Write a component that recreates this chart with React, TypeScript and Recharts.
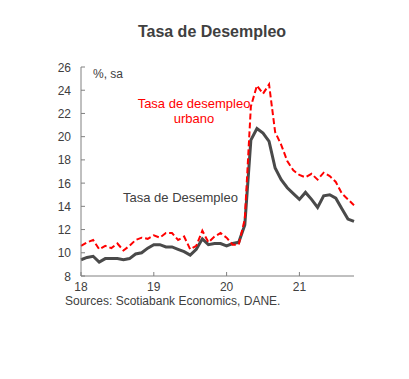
import { LineChart, Line, XAxis, YAxis } from "recharts";

// monthly, Jan-2018 .. Oct-2021
const startYear = 18;

const desempleo = [
  9.4, 9.6, 9.7, 9.2, 9.5, 9.5, 9.5, 9.4, 9.5, 9.9, 10.0, 10.4,
  10.7, 10.7, 10.5, 10.5, 10.3, 10.1, 9.8, 10.3, 11.2, 10.7, 10.8, 10.8,
  10.6, 10.8, 10.9, 12.4, 19.7, 20.7, 20.3, 19.6, 17.3, 16.3, 15.6, 15.1,
  14.6, 15.2, 14.6, 13.9, 14.9, 15.0, 14.7, 13.8, 12.9, 12.7,
];

const desempleoUrbano = [
  10.6, 10.9, 11.1, 10.3, 10.6, 10.4, 10.8, 10.2, 10.6, 11.1, 11.3, 11.2,
  11.5, 11.3, 11.7, 11.7, 11.1, 11.4, 10.3, 10.6, 11.9, 10.9, 11.4, 11.7,
  11.3, 10.7, 10.7, 12.9, 22.6, 24.4, 23.7, 24.5, 20.4, 19.3, 17.9, 17.1,
  16.7, 16.5, 16.8, 16.3, 16.9, 16.6, 16.1, 15.1, 14.6, 14.1,
];

const xTicks = [18, 19, 20, 21];
const yTicks = [8, 10, 12, 14, 16, 18, 20, 22, 24, 26];

const data = desempleo.map((v, i) => ({
  t: startYear + i / 12,
  total: v,
  urbano: desempleoUrbano[i],
}));

const AXIS = "#808080";
const TXT = "#404040";
const FONT = "'Liberation Sans', Arial, sans-serif";

function YTick(props: any) {
  const { x, y, payload } = props;
  return (
    <g>
      <line x1={x} x2={x + 4} y1={y} y2={y} stroke={AXIS} />
      <text x={x - 10} y={y} dy={4.5} textAnchor="end" fill={TXT} fontSize={12} fontFamily={FONT}>
        {payload.value}
      </text>
    </g>
  );
}

function XTick(props: any) {
  const { x, y, payload } = props;
  return (
    <g>
      <line x1={x} x2={x} y1={y} y2={y - 4} stroke={AXIS} />
      <text x={x} y={y} dy={15} textAnchor="middle" fill={TXT} fontSize={12} fontFamily={FONT}>
        {payload.value}
      </text>
    </g>
  );
}

const label = (extra: React.CSSProperties): React.CSSProperties => ({
  position: "absolute",
  fontFamily: FONT,
  whiteSpace: "nowrap",
  lineHeight: 1,
  ...extra,
});

export default function App() {
  return (
    <div style={{ position: "relative", width: 409, height: 379, background: "#fff" }}>
      <style>{`body{margin:0}`}</style>
      <LineChart
        width={409}
        height={379}
        data={data}
        margin={{ top: 67, right: 55, bottom: 83, left: 51 }}
      >
        <XAxis
          dataKey="t"
          type="number"
          domain={[18, 21.75]}
          ticks={xTicks}
          height={20}
          tickSize={0}
          tickMargin={0}
          tickLine={false}
          tick={<XTick />}
          axisLine={{ stroke: AXIS }}
        />
        <YAxis
          domain={[8, 26]}
          ticks={yTicks}
          width={30}
          tickSize={0}
          tickMargin={0}
          tickLine={false}
          tick={<YTick />}
          axisLine={{ stroke: AXIS }}
        />
        <Line
          type="linear"
          dataKey="total"
          stroke="#4a4a4a"
          strokeWidth={3}
          dot={false}
          isAnimationActive={false}
        />
        <Line
          type="linear"
          dataKey="urbano"
          stroke="#ff0000"
          strokeWidth={2}
          strokeDasharray="6 3"
          dot={false}
          isAnimationActive={false}
        />
      </LineChart>
      <div style={label({ left: 0, width: 424, top: 24, textAlign: "center", fontSize: 16, fontWeight: "bold", color: "#404040" })}>
        Tasa de Desempleo
      </div>
      <div style={label({ left: 93, top: 68, fontSize: 12, color: TXT })}>%, sa</div>
      <div style={label({ left: 136, width: 116, top: 96, textAlign: "center", fontSize: 13, color: "#ff0000", lineHeight: "15px" })}>
        Tasa de desempleo
        <br />
        urbano
      </div>
      <div style={label({ left: 123, top: 191, fontSize: 13, color: TXT })}>Tasa de Desempleo</div>
      <div style={label({ left: 65, top: 295, fontSize: 12, color: TXT })}>
        Sources: Scotiabank Economics, DANE.
      </div>
    </div>
  );
}
